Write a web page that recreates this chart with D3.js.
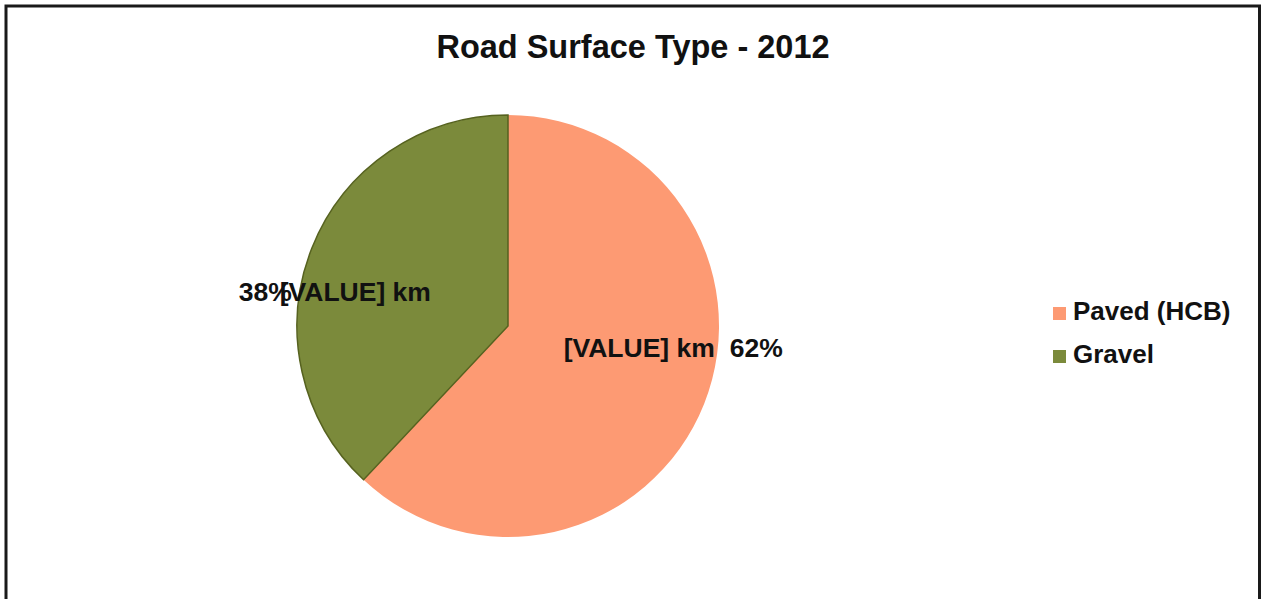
<!DOCTYPE html>
<meta charset="utf-8">
<style>

body {
  margin: 0;
  background: #fff;
}

text {
  font-family: "Liberation Sans", Arial, sans-serif;
  font-weight: bold;
  fill: #111;
}

.title {
  font-size: 32.5px;
  text-anchor: middle;
}

.label {
  font-size: 26.5px;
}

.legend text {
  font-size: 26px;
}

</style>
<svg width="1262" height="599"></svg>
<script src="https://cdn.jsdelivr.net/npm/d3@7"></script>
<script>

var categories = ["Paved (HCB)", "Gravel"],
    shares = [62, 38],
    valueLabels = ["[VALUE] km", "[VALUE] km"],
    colors = ["#fd9a73", "#7b8a3b"],
    outlines = ["none", "#56621f"];

var svg = d3.select("svg"),
    width = +svg.attr("width"),
    height = +svg.attr("height");

// frame (bottom edge is cut off in the scan)
svg.append("path")
    .attr("d", "M6,599V6H1259.5V599")
    .attr("fill", "none")
    .attr("stroke", "#1a1a1a")
    .attr("stroke-width", 3);

svg.append("text")
    .attr("class", "title")
    .attr("x", 633)
    .attr("y", 58)
    .text("Road Surface Type - 2012");

var cx = 508, cy = 326, r = 211;

var data = categories.map(function(c, i) {
  return {name: c, share: shares[i], label: valueLabels[i], color: colors[i], outline: outlines[i]};
});

var pie = d3.pie()
    .sort(null)
    .value(function(d) { return d.share; });

var arc = d3.arc()
    .innerRadius(0)
    .outerRadius(r);

var arcs = pie(data);

var g = svg.append("g")
    .attr("transform", "translate(" + cx + "," + cy + ")");

g.selectAll("path")
  .data(arcs)
  .enter().append("path")
    .attr("d", arc)
    .attr("fill", function(d) { return d.data.color; })
    .attr("stroke", function(d) { return d.data.outline; })
    .attr("stroke-width", 1.5);

// labels: vertical position follows the slice's mid angle, horizontal hugs the rim
arcs.forEach(function(d) {
  var mid = (d.startAngle + d.endAngle) / 2,
      side = Math.sin(mid) > 0 ? 1 : -1,
      yc = -Math.cos(mid) * r * 0.36 - 6,
      edge = side * Math.sqrt(r * r - yc * yc),
      base = yc + 9;

  var km = g.append("text")
      .attr("class", "label")
      .attr("y", base)
      .text(d.data.label);
  var pct = g.append("text")
      .attr("class", "label")
      .attr("y", base)
      .text(d.data.share + "%");

  if (side > 0) {
    km.attr("x", edge - 3).attr("text-anchor", "end");
    pct.attr("x", edge + 12).attr("text-anchor", "start");
  } else {
    pct.attr("x", edge - 8).attr("text-anchor", "end");
    km.attr("x", edge - 20).attr("text-anchor", "start");
  }
});

var legend = svg.append("g")
    .attr("class", "legend")
    .attr("transform", "translate(1053,307)");

var item = legend.selectAll("g")
  .data(data)
  .enter().append("g")
    .attr("transform", function(d, i) { return "translate(0," + i * 43 + ")"; });

item.append("rect")
    .attr("width", 13)
    .attr("height", 13)
    .attr("fill", function(d) { return d.color; });

item.append("text")
    .attr("x", 20)
    .attr("y", 13)
    .text(function(d) { return d.name; });

</script>
